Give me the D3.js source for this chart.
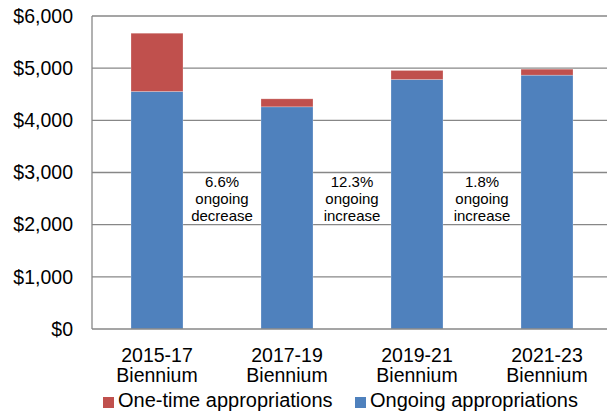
<!DOCTYPE html>
<html><head><meta charset="utf-8">
<script src="https://cdn.jsdelivr.net/npm/d3@7"></script>
<style>
html,body{margin:0;padding:0;background:#fff;}
svg text{font-family:"Liberation Sans",Arial,sans-serif;fill:#000;}
</style></head>
<body>
<svg id="c" width="607" height="414"></svg>
<script>
const categories = [["2015-17","Biennium"],["2017-19","Biennium"],["2019-21","Biennium"],["2021-23","Biennium"]];
const ongoing = [4553, 4259, 4783, 4866];
const oneTime = [1117, 153, 173, 115];
const yTicks = [0, 1000, 2000, 3000, 4000, 5000, 6000];
const annotations = [["6.6%","ongoing","decrease"],["12.3%","ongoing","increase"],["1.8%","ongoing","increase"]];
const seriesNames = ["One-time appropriations","Ongoing appropriations"];
const colors = {ongoing:"#4F81BD", oneTime:"#C0504D"};

const svg = d3.select("#c");
const keys = categories.map(c => c[0]);
const x = d3.scaleBand().domain(keys).range([92, 612]).paddingInner(0.6).paddingOuter(0.3);
const y = d3.scaleLinear().domain([0, 6000]).range([329, 16]);

// gridlines
svg.append("g").selectAll("line").data(yTicks.filter(t => t > 0)).join("line")
  .attr("x1", 92).attr("x2", 607).attr("y1", d => y(d)).attr("y2", d => y(d))
  .attr("stroke", "#878787").attr("stroke-width", 1.3);

// y axis
const yAxis = d3.axisLeft(y).tickValues(yTicks).tickSize(0).tickPadding(0)
  .tickFormat(d => "$" + d3.format(",")(d));
const gy = svg.append("g").attr("transform", "translate(73,0)").call(yAxis);
gy.select(".domain").remove();
gy.selectAll("text").attr("font-size", 19.5).attr("font-family", "Liberation Sans, Arial, sans-serif").attr("fill", "#000");

// bars
const data = keys.map((k, i) => ({k, ongoing: ongoing[i], oneTime: oneTime[i]}));
const stack = d3.stack().keys(["ongoing", "oneTime"])(data);
svg.append("g").selectAll("g").data(stack).join("g")
  .attr("fill", s => colors[s.key])
  .selectAll("rect").data(s => s).join("rect")
  .attr("x", d => x(d.data.k)).attr("width", x.bandwidth())
  .attr("y", d => y(d[1])).attr("height", d => y(d[0]) - y(d[1]))
  .attr("stroke", "#ffffff").attr("stroke-opacity", 0.35).attr("stroke-width", 0.7);

// axis lines
svg.append("line").attr("x1", 92).attr("x2", 92).attr("y1", 16).attr("y2", 329).attr("stroke", "#878787").attr("stroke-width", 1.3);
svg.append("line").attr("x1", 92).attr("x2", 607).attr("y1", 329).attr("y2", 329).attr("stroke", "#878787").attr("stroke-width", 1.3);

// x labels
const xl = svg.append("g").selectAll("text").data(categories).join("text")
  .attr("x", d => x(d[0]) + x.bandwidth() / 2).attr("y", 362)
  .attr("text-anchor", "middle").attr("font-size", 19.5);
xl.append("tspan").text(d => d[0]);
xl.append("tspan").attr("x", d => x(d[0]) + x.bandwidth() / 2).attr("dy", 20).text(d => d[1]);

// annotations between bars
annotations.forEach((a, i) => {
  const cx = (x(keys[i]) + x.bandwidth() + x(keys[i + 1])) / 2;
  const t = svg.append("text").attr("text-anchor", "middle").attr("font-size", 15);
  a.forEach((line, j) => t.append("tspan").attr("x", cx).attr("y", 187 + j * 16.8).text(line));
});

// legend
const leg = [{name: seriesNames[0], c: colors.oneTime, x: 103}, {name: seriesNames[1], c: colors.ongoing, x: 355}];
const lg = svg.append("g").selectAll("g").data(leg).join("g");
lg.append("rect").attr("x", d => d.x).attr("y", 397).attr("width", 11).attr("height", 11).attr("fill", d => d.c);
lg.append("text").attr("x", d => d.x + 15).attr("y", 407).attr("font-size", 20).text(d => d.name);
</script>
</body></html>
